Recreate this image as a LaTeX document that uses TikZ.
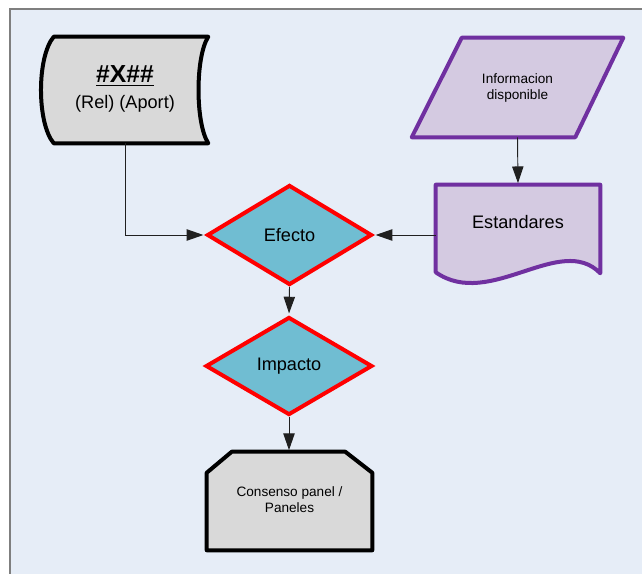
\documentclass[tikz,border=0pt]{standalone}
\usepackage{fontspec}
\setmainfont{Liberation Sans}
\usetikzlibrary{shapes.geometric,arrows.meta,calc}

\definecolor{pagebg}{HTML}{E6EDF7}
\definecolor{framegray}{HTML}{7F7F7F}
\definecolor{boxgray}{HTML}{D9D9D9}
\definecolor{teal}{HTML}{70BDD2}
\definecolor{lavender}{HTML}{D4CAE1}
\definecolor{violet}{HTML}{7030A0}
\definecolor{connline}{HTML}{202020}

\tikzset{
  frame/.style={draw=none, inner sep=0pt, align=center, text=black},
  blackborder/.style={draw=black, line width=3pt, line join=round, fill=boxgray},
  purpleborder/.style={draw=violet, line width=3pt, line join=round, fill=lavender},
  decision/.style={diamond, draw=red, line width=3pt, fill=teal, inner sep=0pt,
    font=\fontsize{13.6}{16}\selectfont},
  conn/.style={draw=connline, line width=0.7pt,
    -{Triangle[length=12.5pt,width=8.5pt]}, shorten >=1.2pt},
}

\begin{document}
\begin{tikzpicture}[x=0.75pt,y=-0.75pt]
  \useasboundingbox (0,0) rectangle (642,574);
  \fill[white] (0,0) rectangle (642,574);
  % working area with its top and left rule
  \fill[pagebg] (10,9) rectangle (642,574);
  \draw[framegray, line width=1.1pt] (10,574) -- (10,9) -- (642,9);

  % stored-data source
  \node[frame, minimum width=124.5pt, minimum height=79.5pt] (src) at (125,90) {};
  \path[blackborder]
    ($(src.north west)+(12,0)$) -- (src.north east)
    .. controls ($(src.north east)+(-13,20)$) and ($(src.south east)+(-13,-20)$) .. (src.south east)
    -- ($(src.south west)+(12,0)$)
    .. controls ($(src.south west)+(-5,-20)$) and ($(src.north west)+(-5,20)$) .. cycle;
  \node[frame] (srctext) at ($(src.center)+(0,-1)$)
    {{\fontsize{18.5}{22}\selectfont\bfseries\underline{\#X\#\#}}\\[7pt]
     {\fontsize{13.6}{16}\selectfont (Rel) (Aport)}};

  % available information (parallelogram)
  \node[frame, minimum width=158.25pt, minimum height=74.25pt] (info) at (517.5,87.5) {};
  \path[purpleborder]
    ($(info.north west)+(50,0)$) -- (info.north east)
    -- ($(info.south east)+(-48,0)$) -- (info.south west) -- cycle;
  \node[frame, font=\fontsize{10.2}{12}\selectfont] (infotext) at (info.center)
    {Informacion\\disponible};

  % standards (document)
  \node[frame, minimum width=123pt, minimum height=56.25pt] (std) at (518,222.5) {};
  \path[purpleborder]
    (std.north west) -- (std.north east) -- ($(std.south east)+(0,13)$)
    .. controls ($(std.south east)+(-40,-28)$) and ($(std.south west)+(54,50)$)
    .. ($(std.south west)+(0,12)$) -- cycle;
  \node[frame, font=\fontsize{13.6}{16}\selectfont] (stdtext) at (std.center) {Estandares};

  % decisions
  \node[decision, minimum width=123.75pt, minimum height=75pt] (efecto) at (289.5,235) {Efecto};
  \node[decision, minimum width=125pt, minimum height=73.5pt] (impacto) at (289,366) {Impacto};

  % consensus (cut-corner box)
  \node[frame, minimum width=123.75pt, minimum height=73.5pt] (cons) at (289.5,501) {};
  \path[blackborder]
    ($(cons.north west)+(25,0)$) -- ($(cons.north east)+(-27,0)$)
    -- ($(cons.north east)+(0,21)$) -- (cons.south east) -- (cons.south west)
    -- ($(cons.north west)+(0,21)$) -- cycle;
  \node[frame, font=\fontsize{10.2}{12}\selectfont] (constext) at ($(cons.center)+(0,-1)$)
    {Consenso panel /\\Paneles};

  % connectors
  \draw[conn] (src.south) |- (efecto.west);
  \draw[conn] (info.south) -- (std.north);
  \draw[conn] (efecto.east -| std.west) -- (efecto.east);
  \draw[conn] (efecto.south) -- (impacto.north);
  \draw[conn] (impacto.south) -- (impacto.south |- cons.north);
\end{tikzpicture}
\end{document}
